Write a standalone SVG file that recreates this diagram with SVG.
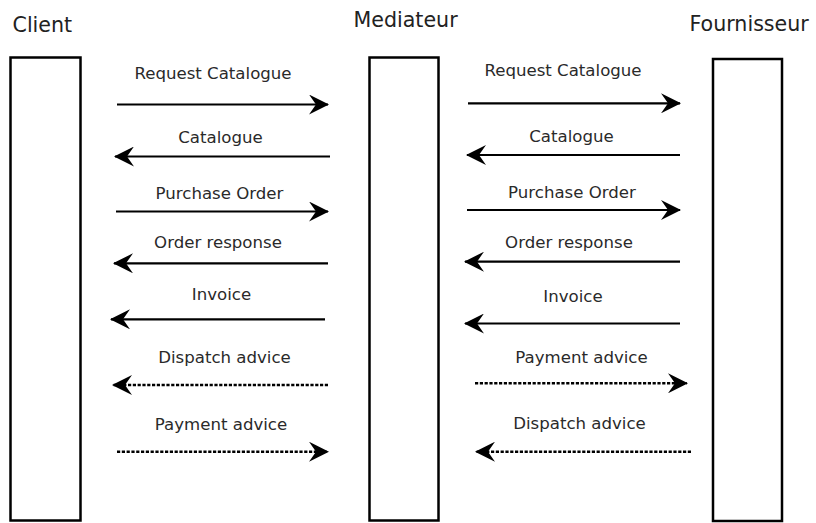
<svg xmlns="http://www.w3.org/2000/svg" width="816" height="523" viewBox="0 0 816 523">
<defs>
<style>
.box{fill:#fff;stroke:#000;stroke-width:2.5}
.title{font-family:"DejaVu Sans",sans-serif;font-size:20.6px;fill:#222}
.lbl{font-family:"DejaVu Sans",sans-serif;font-size:16.6px;fill:#2a2a2a;text-anchor:middle}
.msg{stroke:#000;stroke-width:2.2;fill:none}
.dot{stroke:#000;stroke-width:2.4;fill:none;stroke-dasharray:3.2 1.6}
</style>
<marker id="ah" viewBox="0 0 20 20" refX="19" refY="10" markerWidth="20" markerHeight="20" markerUnits="userSpaceOnUse" orient="auto">
<path d="M20,10 L0,0 L7,10 L0,20 Z" fill="#000"/>
</marker>
</defs>
<rect width="816" height="523" fill="#fff"/>
<g id="client">
<rect class="box" x="10.5" y="57.5" width="70" height="463"/>
<text class="title" x="12.5" y="31.5">Client</text>
</g>
<g id="mediateur">
<rect class="box" x="369.5" y="57.5" width="69" height="463"/>
<text class="title" x="353.5" y="27">Mediateur</text>
</g>
<g id="fournisseur">
<rect class="box" x="713" y="59" width="69" height="462"/>
<text class="title" x="689.5" y="30.5">Fournisseur</text>
</g>
<g id="connectors">
<line class="msg" x1="117" y1="104.5" x2="328" y2="104.5" marker-end="url(#ah)"/>
<line class="msg" x1="330" y1="156.5" x2="115" y2="156.5" marker-end="url(#ah)"/>
<line class="msg" x1="116" y1="211.5" x2="328" y2="211.5" marker-end="url(#ah)"/>
<line class="msg" x1="328" y1="263.3" x2="114" y2="263.3" marker-end="url(#ah)"/>
<line class="msg" x1="325" y1="319.3" x2="111" y2="319.3" marker-end="url(#ah)"/>
<line class="dot" x1="328" y1="385" x2="113" y2="385" marker-end="url(#ah)"/>
<line class="dot" x1="117" y1="451.7" x2="328" y2="451.7" marker-end="url(#ah)"/>
<line class="msg" x1="468" y1="103.3" x2="680" y2="103.3" marker-end="url(#ah)"/>
<line class="msg" x1="680" y1="155" x2="467" y2="155" marker-end="url(#ah)"/>
<line class="msg" x1="467" y1="210" x2="680" y2="210" marker-end="url(#ah)"/>
<line class="msg" x1="680" y1="261.7" x2="465" y2="261.7" marker-end="url(#ah)"/>
<line class="msg" x1="680" y1="323.5" x2="465" y2="323.5" marker-end="url(#ah)"/>
<line class="dot" x1="475" y1="383.3" x2="687" y2="383.3" marker-end="url(#ah)"/>
<line class="dot" x1="691" y1="451.7" x2="476" y2="451.7" marker-end="url(#ah)"/>
</g>
<g id="labels">
<text class="lbl" x="213" y="78.5">Request Catalogue</text>
<text class="lbl" x="220.5" y="143">Catalogue</text>
<text class="lbl" x="219.5" y="199">Purchase Order</text>
<text class="lbl" x="218" y="248">Order response</text>
<text class="lbl" x="221.5" y="300">Invoice</text>
<text class="lbl" x="224.5" y="363">Dispatch advice</text>
<text class="lbl" x="221" y="430">Payment advice</text>
<text class="lbl" x="563" y="76">Request Catalogue</text>
<text class="lbl" x="571.5" y="141.5">Catalogue</text>
<text class="lbl" x="572" y="198.3">Purchase Order</text>
<text class="lbl" x="569" y="248">Order response</text>
<text class="lbl" x="573" y="301.7">Invoice</text>
<text class="lbl" x="581.5" y="363">Payment advice</text>
<text class="lbl" x="579.5" y="429">Dispatch advice</text>
</g>
</svg>
